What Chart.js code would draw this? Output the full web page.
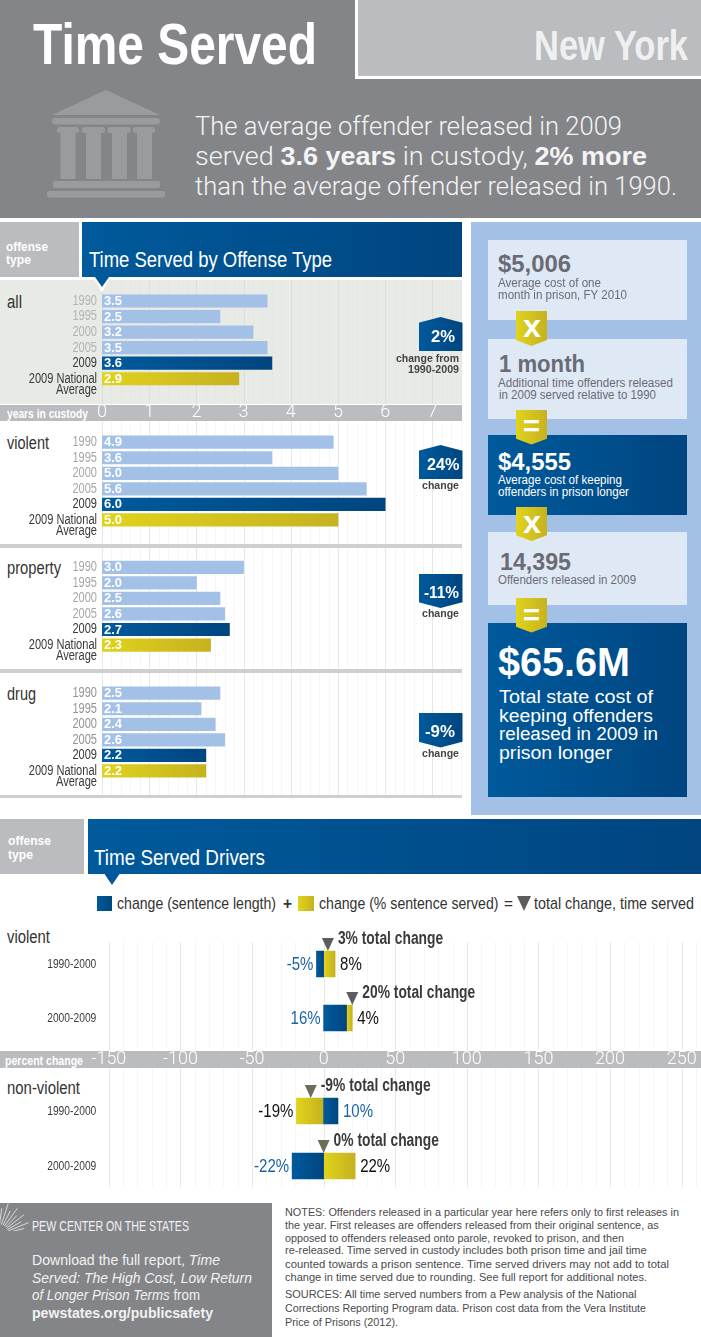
<!DOCTYPE html>
<html><head><meta charset="utf-8">
<style>
html,body{margin:0;padding:0;background:#fff;}
#page{position:relative;width:701px;height:1337px;overflow:hidden;background:#fff;}
#page div.b,#page canvas,#page svg{position:absolute;display:block;}
#page div.t{position:absolute;white-space:nowrap;line-height:1;}
</style>
<script src="https://cdn.jsdelivr.net/npm/chart.js@4"></script>
</head><body><div id="page"></div>
<script>
// ---- data ----
const yearLabels = ['1990','1995','2000','2005','2009',['','2009 National','Average']];
const allValues = [3.5,2.5,3.2,3.5,3.6,2.9];
const violentValues = [4.9,3.6,5.0,5.6,6.0,5.0];
const propertyValues = [3.0,2.0,2.5,2.6,2.7,2.3];
const drugValues = [2.5,2.1,2.4,2.6,2.2,2.2];
const driverPeriods = ['1990-2000','2000-2009'];
const violentSentence = [-5,16];
const violentServed = [8,4];
const violentTotal = [3,20];
const nonViolentSentence = [10,-22];
const nonViolentServed = [-19,22];
const nonViolentTotal = [-9,0];

// ---- helpers ----
const page = document.getElementById('page');
const NARROW = '"Liberation Sans Narrow","Liberation Sans",sans-serif';
const SANS = '"Liberation Sans",Arial,sans-serif';
const BLUE = 'linear-gradient(90deg,#005a9c,#004580)';
const YEL = 'linear-gradient(90deg,#e0d31c,#c6b220)';
const GRAY = '#848589', LGRAY = '#bbbcc0';
function B(x,y,w,h,bg,clip){
  const d=document.createElement('div');d.className='b';
  d.style.cssText=`left:${x}px;top:${y}px;width:${w}px;height:${h}px;background:${bg};`+(clip?`clip-path:${clip};`:'');
  page.appendChild(d);return d;
}
function T(x,y,html,font,color,w,align){
  const d=document.createElement('div');d.className='t';
  d.innerHTML=html;d.style.font=font;d.style.lineHeight='1';d.style.color=color;d.style.left='0';d.style.top=y+'px';
  page.appendChild(d);
  const m=d.getBoundingClientRect().width;const tw=w||m;const s=tw/m;
  let left=x; if(align==='r')left=x-tw; if(align==='c')left=x-tw/2;
  d.style.left=left+'px';d.style.transformOrigin='0 50%';
  d.style.transform=`translateY(-50%) scaleX(${s})`;
  return d;
}
// The condensed face is emulated: any canvas text set in the narrow family is squeezed about its anchor.
const SQUEEZE=0.79;
function canvas(x,y,w,h){
  const c=document.createElement('canvas');c.width=w;c.height=h;
  c.style.cssText=`left:${x}px;top:${y}px;width:${w}px;height:${h}px;`;
  page.appendChild(c);
  const ctx=c.getContext('2d'),orig=ctx.fillText;
  ctx.fillText=function(t,px,py,mw){
    if(/Narrow/.test(this.font)){this.save();this.translate(px,py);this.scale(SQUEEZE,1);orig.call(this,t,0,0);this.restore();}
    else orig.call(this,t,px,py);
  };
  return c;
}
const PENT_UP='polygon(50% 0,100% 17%,100% 100%,0 100%,0 17%)';
const PENT_DOWN='polygon(0 0,100% 0,100% 83%,50% 100%,0 83%)';

// ---- top banner ----
B(0,0,701,218,GRAY);
B(355,0,346,79,'#fff');
B(358,0,343,76,LGRAY);
T(33,44,'Time Served',`bold 58px ${NARROW}`,'#fff',284);
T(534,46,'New York',`bold 42px ${NARROW}`,'#eff1f0',154);
page.insertAdjacentHTML('beforeend',`<svg style="left:0;top:0" width="200" height="218" fill="#9a9b9f">
<polygon points="106,90 160,115 52,115"/>
<rect x="52" y="118" width="108" height="6.5" rx="3"/>
<rect x="57" y="127" width="22" height="6" rx="2.5"/><rect x="82" y="127" width="23" height="6" rx="2.5"/><rect x="107.5" y="127" width="23" height="6" rx="2.5"/><rect x="133" y="127" width="22" height="6" rx="2.5"/>
<rect x="60.5" y="133" width="15" height="46"/><rect x="86" y="133" width="15" height="46"/><rect x="112" y="133" width="15" height="46"/><rect x="137" y="133" width="15" height="46"/>
<rect x="53" y="181" width="107" height="7" rx="2"/><rect x="47" y="191" width="118" height="6.5" rx="2"/></svg>`);
const lead=`300 25px Roboto,${SANS}`; const lb=`font-family:${SANS.replace(/"/g,"'")};font-weight:bold`;
T(195,126,'The average offender released in 2009',lead,'#f4f4f4',427);
T(195,156,`served <span style="${lb}">3.6 years</span> in custody, <span style="${lb}">2% more</span>`,lead,'#f4f4f4',452);
T(195,186,'than the average offender released in 1990.',lead,'#f4f4f4',482);

// ---- offense section backgrounds ----
B(0,222,79,55,LGRAY);
B(82,222,380,55,BLUE);
T(6,246,'offense',`bold 13px ${NARROW}`,'#fff',42);
T(6,259,'type',`bold 13px ${NARROW}`,'#fff',25);
T(89,260,'Time Served by Offense Type',`22px ${NARROW}`,'#fff',243);
B(0,280,462,124,'#e8eae6');
B(0,404.5,462,16.5,LGRAY);
B(0,544,462,4,'#cfcfcf');
B(0,669,462,3.5,'#cfcfcf');
B(0,794.5,462,3.5,'#cfcfcf');
T(7,412.5,'years in custody',`bold 13px ${NARROW}`,'#fff',81);
T(7,302,'all',`18px ${NARROW}`,'#333',15);
T(7,443,'violent',`18px ${NARROW}`,'#333',42);
T(7,568,'property',`18px ${NARROW}`,'#333',54);
T(7,694,'drug',`18px ${NARROW}`,'#333',29);

// ---- chart plugins ----
const xGridPlugin={id:'xGridExt',beforeDatasetsDraw(chart,args,o){
  const sc=chart.scales.x,ctx=chart.ctx;ctx.save();
  sc.ticks.forEach((t,i)=>{
    const major=Math.abs(t.value/o.major-Math.round(t.value/o.major))<1e-6;
    const px=Math.round(sc.getPixelForTick(i))+0.5;
    ctx.strokeStyle=major?o.majorColor:o.minorColor;ctx.lineWidth=1;
    ctx.beginPath();ctx.moveTo(px,o.top);ctx.lineTo(px,o.bottom);ctx.stroke();
  });ctx.restore();
}};
const barLabelPlugin={id:'barLabels',afterDatasetsDraw(chart,args,o){
  if(!o.on)return;const ctx=chart.ctx;ctx.save();
  ctx.font=`bold 13px ${SANS}`;ctx.fillStyle='#fff';ctx.textBaseline='middle';ctx.textAlign='left';
  chart.getDatasetMeta(0).data.forEach((el,i)=>{
    ctx.fillText(chart.data.datasets[0].data[i].toFixed(1),chart.scales.x.getPixelForValue(0)+2,el.y+0.5);
  });ctx.restore();
}};
const driverPlugin={id:'driverMarks',afterDatasetsDraw(chart,args,o){
  if(!o.totals)return;const ctx=chart.ctx,sc=chart.scales.x;ctx.save();
  const a=chart.data.datasets[0].data,b=chart.data.datasets[1].data;
  const mA=chart.getDatasetMeta(0).data;
  ctx.textBaseline='middle';
  o.totals.forEach((tot,i)=>{
    const y=mA[i].y, x=sc.getPixelForValue(tot), top=y-13;
    ctx.fillStyle=o.tri;ctx.beginPath();ctx.moveTo(x-6,top-13);ctx.lineTo(x+6,top-13);ctx.lineTo(x,top);ctx.closePath();ctx.fill();
    ctx.textAlign='left';ctx.fillStyle='#3a3a3c';ctx.font=`bold 17.5px ${NARROW}`;
    ctx.fillText(tot+'% total change',x+10,top-11.5);
    const lo=Math.min(0,a[i],b[i]), hi=Math.max(0,a[i],b[i],a[i]+b[i]);
    const bothPos=a[i]>0&&b[i]>0;
    const loPx=sc.getPixelForValue(bothPos?0:lo), hiPx=sc.getPixelForValue(bothPos?a[i]+b[i]:hi);
    const blueLeft=a[i]<b[i]||bothPos;
    ctx.font=`19px ${NARROW}`;
    ctx.textAlign='right';ctx.fillStyle=blueLeft?'#1c64a8':'#111';
    ctx.fillText((blueLeft?a[i]:b[i])+'%',loPx-3,y+1);
    ctx.textAlign='left';ctx.fillStyle=blueLeft?'#111':'#1c64a8';
    ctx.fillText((blueLeft?b[i]:a[i])+'%',hiPx+5,y+1);
  });ctx.restore();
}};
Chart.register(xGridPlugin,barLabelPlugin,driverPlugin);

function gradientFill(chart,value,c1,c2){
  const sc=chart.scales.x;const x0=sc.getPixelForValue(0),x1=sc.getPixelForValue(value);
  if(!isFinite(x0)||!isFinite(x1)||x0===x1)return c1;
  const g=chart.ctx.createLinearGradient(Math.min(x0,x1),0,Math.max(x0,x1),0);
  g.addColorStop(0,c1);g.addColorStop(1,c2);return g;
}
const STEP=15.55;
function offensePanel(top,height,firstCenter,values,showAxis,dimColor,bg){
  const c=canvas(0,top,462,height);
  const areaTop=firstCenter-STEP/2,areaBottom=areaTop+STEP*6;
  const gridBottom=showAxis?404-top:height;
  new Chart(c,{type:'bar',data:{labels:yearLabels,datasets:[{data:values,
      barThickness:12.5,borderWidth:0,
      backgroundColor(ctx){const i=ctx.dataIndex,v=ctx.raw;
        if(i===4)return gradientFill(ctx.chart,v,'#005a9c','#004580');
        if(i===5)return gradientFill(ctx.chart,v,'#e0d31c','#c6b220');
        return '#a3c1e6';}}]},
    options:{indexAxis:'y',responsive:false,animation:false,devicePixelRatio:1,
      layout:{padding:{top:areaTop-top,bottom:showAxis?0:top+height-areaBottom,left:0,right:0}},
      plugins:{legend:{display:false},tooltip:{enabled:false},
        xGridExt:{major:1,top:0,bottom:gridBottom,majorColor:bg?'#dcdedb':'#e8e8e8',minorColor:bg?'#e4e6e2':'#f6f6f6'},
        barLabels:{on:true},driverMarks:{}},
      scales:{
        x:{type:'linear',bounds:'data',min:0,max:7.627,display:showAxis,
          grid:{display:false,drawTicks:false},border:{display:false},
          ticks:{stepSize:0.2,includeBounds:false,autoSkip:false,maxRotation:0,minRotation:0,
            padding:showAxis?403.5-areaBottom:0,color:'#fff',font:{family:'Roboto,'+SANS,size:18,weight:300,lineHeight:1},
            callback(v){return Math.abs(v-Math.round(v))<1e-6?String(Math.round(v)):'';}},
          afterFit(s){if(showAxis)s.height=top+height-areaBottom;s.paddingLeft=0;s.paddingRight=0;}},
        y:{type:'category',offset:true,grid:{display:false,drawTicks:false},border:{display:false},
          ticks:{autoSkip:false,padding:5,font:{family:NARROW,size:14,lineHeight:0.82},
            color(ctx){return ctx.index<4?dimColor:'#3a3a3c';}},
          afterFit(s){s.width=102;s.paddingTop=0;s.paddingBottom=0;}}
      }}});
}
offensePanel(280,141,301,allValues,true,'#b2b3b7',true);
offensePanel(421,123,442.2,violentValues,false,'#a6a7ab',false);
offensePanel(548,121,567.3,propertyValues,false,'#a6a7ab',false);
offensePanel(672.5,122,692.7,drugValues,false,'#939498',false);
// header pointer sits over the first panel
B(93,277,18,15.5,'#fff','polygon(0 0,100% 0,50% 100%)');
B(95,277,14,10,'#00579a','polygon(0 0,100% 0,50% 100%)');

// ---- badges ----
B(418.5,317,44,34,BLUE,PENT_UP);
B(418.5,445,44,34,BLUE,PENT_UP);
B(418.5,573.5,44,34.5,BLUE,PENT_DOWN);
B(418.5,713,44,34.5,BLUE,PENT_DOWN);
T(443,336,'2%',`bold 17px ${SANS}`,'#fff',24,'c');
T(443,464,'24%',`bold 17px ${SANS}`,'#fff',32.5,'c');
T(441.5,591.7,'-11%',`bold 17px ${SANS}`,'#fff',35,'c');
T(440,730.5,'-9%',`bold 17px ${SANS}`,'#fff',30,'c');
const chg=`bold 11px ${SANS}`;
T(459,358,'change from',chg,'#444',63,'r');
T(459,369,'1990-2009',chg,'#444',51,'r');
T(459,485,'change',chg,'#444',37,'r');
T(459,613,'change',chg,'#444',37,'r');
T(459,753,'change',chg,'#444',37,'r');

// ---- cost column ----
B(471,222,230,593,'#a3c1e6');
const LB='#dfe8f5',NUM='#6a6b75';
B(488,240,199,80,LB);B(488,339,199,80,LB);B(487.5,435,199.5,80,BLUE);B(488,532,199,73,LB);B(487.5,623,199.5,174,BLUE);
[[311,346],[410,444.5],[507,541],[598,632.5]].forEach(r=>B(516,r[0],31,r[1]-r[0],YEL,'polygon(0 0,100% 0,100% 83%,50% 100%,0 83%)'));
const big=`bold 24px ${SANS}`,sm=`12px ${SANS}`;
T(531.5,326,'x',`bold 32px ${SANS}`,'#fff',18,'c');
T(531.5,426,'=',`bold 30px ${SANS}`,'#fff',17,'c');
T(531.5,522,'x',`bold 32px ${SANS}`,'#fff',18,'c');
T(531.5,615,'=',`bold 30px ${SANS}`,'#fff',17,'c');
T(498,264,'$5,006',big,NUM,73);
T(498,283,'Average cost of one',sm,NUM,103);
T(498,295,'month in prison, FY 2010',sm,NUM,129);
T(499,364,'1 month',big,NUM,86);
T(498,383,'Additional time offenders released',sm,NUM,175);
T(498.5,395,'in 2009 served relative to 1990',sm,NUM,157);
T(498,462,'$4,555',big,'#fff',73);
T(498,480,'Average cost of keeping',sm,'#fff',124);
T(498,492,'offenders in prison longer',sm,'#fff',131);
T(499.5,562,'14,395',big,NUM,71);
T(498,580,'Offenders released in 2009',sm,NUM,138);
T(498,662,'$65.6M',`bold 40px ${SANS}`,'#fff',132);
const tot=`18px ${SANS}`;
T(499,697,'Total state cost of',tot,'#fff',154);
T(499,715.7,'keeping offenders',tot,'#fff',154);
T(499,733.7,'released in 2009 in',tot,'#fff',159);
T(499,752.5,'prison longer',tot,'#fff',113);

// ---- drivers section ----
B(0,819,84,55,LGRAY);
B(88,819,613,55,BLUE);
B(104.5,874,15,11,'#00579a','polygon(0 0,100% 0,50% 100%)');
T(8,840,'offense',`bold 13px ${NARROW}`,'#fff',43);
T(8,854,'type',`bold 13px ${NARROW}`,'#fff',25);
T(94,858,'Time Served Drivers',`22px ${NARROW}`,'#fff',171);
B(96.5,896,15.5,15,BLUE);
B(298,896,15.5,15,YEL);
B(517,896,14,15,'#5d5d5f','polygon(0 0,100% 0,50% 100%)');
const lg=`17px ${NARROW}`;
T(117,903,'change (sentence length)',lg,'#333',159);
T(282.5,903,'+',`bold 17px ${SANS}`,'#333',9);
T(319,903,'change (% sentence served)',lg,'#333',179.5);
T(504,903,'=',`17px ${SANS}`,'#333',9);
T(534,903,'total change, time served',lg,'#333',160);
T(7,937,'violent',`18px ${NARROW}`,'#333',43);
T(7,1088,'non-violent',`18px ${NARROW}`,'#333',73);
B(0,1050.5,701,17.5,LGRAY);
T(5,1059.5,'percent change',`bold 13px ${NARROW}`,'#fff',78);

function gradientFill2(ctx,own,other,c1,c2){
  const i=ctx.dataIndex,v=own[i],o=other[i],sc=ctx.chart.scales.x;
  const a=(v>0&&o>0&&c1==='#e0d31c')?o:0;
  const x0=sc.getPixelForValue(a),x1=sc.getPixelForValue(a+v);
  if(!isFinite(x0)||!isFinite(x1)||x0===x1)return c1;
  const g=ctx.chart.ctx.createLinearGradient(Math.min(x0,x1),0,Math.max(x0,x1),0);
  g.addColorStop(0,c1);g.addColorStop(1,c2);return g;
}
function driverPanel(top,height,firstCenter,step,sentence,served,totals,showAxis,tri,gridTop,gridBottom){
  const c=canvas(0,top,701,height);
  const areaTop=firstCenter-step/2,areaBottom=areaTop+step*2;
  new Chart(c,{type:'bar',data:{labels:driverPeriods,datasets:[
      {label:'change (sentence length)',data:sentence,barThickness:26,
       backgroundColor(ctx){return gradientFill2(ctx,sentence,served,'#005a9c','#004580');}},
      {label:'change (% sentence served)',data:served,barThickness:26,
       backgroundColor(ctx){return gradientFill2(ctx,served,sentence,'#e0d31c','#c6b220');}}]},
    options:{indexAxis:'y',responsive:false,animation:false,devicePixelRatio:1,
      layout:{padding:{top:areaTop-top,bottom:showAxis?0:top+height-areaBottom,left:0,right:0}},
      plugins:{legend:{display:false},tooltip:{enabled:false},
        xGridExt:{major:50,top:gridTop-top,bottom:gridBottom-top,majorColor:'#e8e8e8',minorColor:'#f6f6f6'},
        barLabels:{on:false},driverMarks:{totals,tri}},
      scales:{
        x:{type:'linear',stacked:true,bounds:'data',min:-150,max:263.5,display:showAxis,
          grid:{display:false,drawTicks:false},border:{display:false},
          ticks:{stepSize:10,includeBounds:false,autoSkip:false,maxRotation:0,minRotation:0,
            padding:showAxis?1050-areaBottom:0,color:'#fff',font:{family:'Roboto,'+SANS,size:18,weight:300,lineHeight:1},
            callback(v){return v%50===0?String(v):'';}},
          afterFit(s){if(showAxis)s.height=top+height-areaBottom;s.paddingLeft=0;s.paddingRight=0;}},
        y:{type:'category',stacked:true,offset:true,grid:{display:false,drawTicks:false},border:{display:false},
          ticks:{autoSkip:false,padding:12.5,color:'#3a3a3c',font:{family:NARROW,size:13,lineHeight:1}},
          afterFit(s){s.width=108.8;s.paddingTop=0;s.paddingBottom=0;}}
      }}});
}
driverPanel(925,143,964,54,violentSentence,violentServed,violentTotal,true,'#5d5d5f',942,1050);
driverPanel(1068,127,1111,55,nonViolentSentence,nonViolentServed,nonViolentTotal,false,'#6e6c5a',1068,1187);

// ---- footer ----
B(0,1203,272,134,GRAY);
(function(){let s='<svg style="left:0;top:1203px" width="30" height="28" stroke="#d8d9db" stroke-width="1">';
  const ang=[-8,-1,6,14,22,30,38,46,54,63,72,82];
  ang.forEach((a,i)=>{const r=a*Math.PI/180,r0=11,r1=i%2?27:33;
    s+=`<line x1="${-2+r0*Math.cos(r)}" y1="${32-r0*Math.sin(r)}" x2="${-2+r1*Math.cos(r)}" y2="${32-r1*Math.sin(r)}"/>`;});
  page.insertAdjacentHTML('beforeend',s+'</svg>');})();
T(32,1225,'PEW CENTER ON THE STATES',`15px ${NARROW}`,'#f2f2f2',157);
const fx=`14px ${SANS}`;
T(31.5,1260,'Download the full report, <i>Time</i>',fx,'#f2f2f2',188);
T(31.5,1277.5,'<i>Served: The High Cost, Low Return</i>',fx,'#f2f2f2',220);
T(31.5,1295,'<i>of Longer Prison Terms</i> from',fx,'#f2f2f2',168);
T(31.5,1313,'<b>pewstates.org/publicsafety</b>',fx,'#f2f2f2',181);
const nf=`11px ${SANS}`,nc='#4a4a4c';
[[1211.5,'NOTES: Offenders released in a particular year here refers only to first releases in',394],
 [1224.7,'the year. First releases are offenders released from their original sentence, as',373.7],
 [1237.5,'opposed to offenders released onto parole, revoked to prison, and then',339],
 [1250,'re-released. Time served in custody includes both prison time and jail time',361.7],
 [1264,'counted towards a prison sentence. Time served drivers may not add to total',384],
 [1277.3,'change in time served due to rounding. See full report for additional notes.',362],
 [1294,'SOURCES: All time served numbers from a Pew analysis of the National',351.5],
 [1308,'Corrections Reporting Program data. Prison cost data from the Vera Institute',361],
 [1322,'Price of Prisons (2012).',113]].forEach(r=>T(285,r[0],r[1],nf,nc,r[2]));
</script></body></html>
